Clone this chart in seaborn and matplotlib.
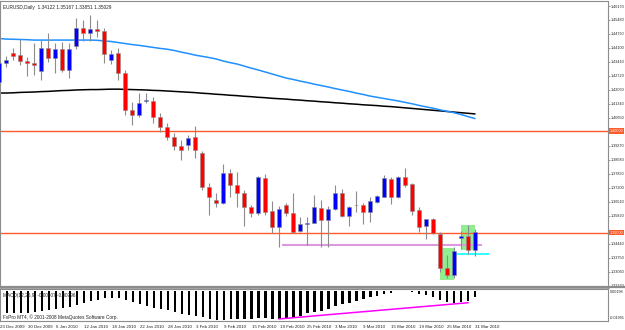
import matplotlib
matplotlib.use("Agg")
import matplotlib.pyplot as plt
import matplotlib.transforms as mtransforms
import seaborn as sns
import numpy as np

# EURUSD daily candles, 23 Dec 2009 .. 31 Mar 2010
opens = [1.4242, 1.4336, 1.4385, 1.4375, 1.4346, 1.4336, 1.4297, 1.4410, 1.4361, 1.4405,
         1.4302, 1.4420, 1.4509, 1.4484, 1.4504, 1.4494, 1.4351, 1.4385, 1.4287, 1.4104,
         1.4080, 1.4149, 1.4149, 1.4070, 1.4021, 1.3971, 1.3927, 1.3932, 1.3971, 1.3892,
         1.3725, 1.3661, 1.3646, 1.3794, 1.3735, 1.3695, 1.3626, 1.3597, 1.3769, 1.3606,
         1.3528, 1.3636, 1.3597, 1.3508, 1.3542, 1.3547, 1.3621, 1.3562, 1.3616, 1.3695,
         1.3582, 1.3634, 1.3636, 1.3601, 1.3651, 1.3675, 1.3764, 1.3675, 1.3774, 1.3740,
         1.3611, 1.3532, 1.3567, 1.3493, 1.3325, 1.3291, 1.3473, 1.3483, 1.34122]
highs = [1.4366, 1.4371, 1.4410, 1.4454, 1.4366, 1.4435, 1.4449, 1.4484, 1.4435, 1.4440,
         1.4435, 1.4558, 1.4548, 1.4573, 1.4548, 1.4509, 1.4400, 1.4410, 1.4302, 1.4144,
         1.4188, 1.4188, 1.4168, 1.4090, 1.4040, 1.3991, 1.3956, 1.3981, 1.4025, 1.3902,
         1.3744, 1.3695, 1.3838, 1.3813, 1.3799, 1.3710, 1.3636, 1.3779, 1.3789, 1.3656,
         1.3631, 1.3646, 1.3695, 1.3577, 1.3577, 1.3685, 1.3661, 1.3631, 1.3735, 1.3715,
         1.3631, 1.3705, 1.3646, 1.3675, 1.3685, 1.3784, 1.3774, 1.3779, 1.3818, 1.3744,
         1.3626, 1.3567, 1.3572, 1.3503, 1.3389, 1.3429, 1.3508, 1.3537, 1.35167]
lows = [1.4228, 1.4316, 1.4351, 1.4326, 1.4272, 1.4277, 1.4252, 1.4341, 1.4287, 1.4292,
        1.4262, 1.4405, 1.4444, 1.4444, 1.4464, 1.4336, 1.4331, 1.4252, 1.4080, 1.4030,
        1.4070, 1.4139, 1.4040, 1.3996, 1.3956, 1.3907, 1.3858, 1.3907, 1.3868, 1.3710,
        1.3587, 1.3626, 1.3641, 1.3675, 1.3626, 1.3532, 1.3577, 1.3587, 1.3587, 1.3498,
        1.3429, 1.3582, 1.3498, 1.3503, 1.3439, 1.3547, 1.3429, 1.3429, 1.3611, 1.3577,
        1.3532, 1.3601, 1.3542, 1.3552, 1.3646, 1.3675, 1.3641, 1.3670, 1.3725, 1.3587,
        1.3503, 1.3468, 1.3493, 1.3306, 1.3276, 1.3276, 1.3419, 1.3394, 1.33851]
closes = [1.4336, 1.4351, 1.4371, 1.4346, 1.4336, 1.4326, 1.4410, 1.4361, 1.4405, 1.4302,
          1.4405, 1.4509, 1.4484, 1.4504, 1.4494, 1.4380, 1.4380, 1.4287, 1.4104, 1.4080,
          1.4139, 1.4154, 1.4070, 1.4021, 1.3971, 1.3927, 1.3907, 1.3966, 1.3907, 1.3725,
          1.3675, 1.3646, 1.3794, 1.3735, 1.3695, 1.3626, 1.3597, 1.3774, 1.3601, 1.3528,
          1.3616, 1.3597, 1.3503, 1.3542, 1.3547, 1.3626, 1.3562, 1.3616, 1.3695, 1.3582,
          1.3626, 1.3638, 1.3601, 1.3656, 1.3680, 1.3769, 1.3675, 1.3774, 1.3735, 1.3606,
          1.3528, 1.3567, 1.3498, 1.3325, 1.3291, 1.3409, 1.3483, 1.3412, 1.35029]

# moving averages as drawn on the chart
ma_fast = [1.4457, 1.4454, 1.4453, 1.4452, 1.4451, 1.4449, 1.4449, 1.4449, 1.4449, 1.4449,
           1.4449, 1.4449, 1.4449, 1.4449, 1.4448, 1.4445, 1.4442, 1.4437, 1.4432, 1.4427,
           1.4423, 1.4418, 1.4413, 1.4408, 1.4404, 1.4398, 1.4390, 1.4383, 1.4375, 1.4369,
           1.4363, 1.4356, 1.4346, 1.4338, 1.4331, 1.4321, 1.4311, 1.4302, 1.4292, 1.4282,
           1.4272, 1.4262, 1.4255, 1.4247, 1.4240, 1.4232, 1.4225, 1.4218, 1.4210, 1.4203,
           1.4196, 1.4188, 1.4181, 1.4173, 1.4167, 1.4161, 1.4155, 1.4149, 1.4142, 1.4135,
           1.4127, 1.4120, 1.4113, 1.4105, 1.4098, 1.4091, 1.4082, 1.4072, 1.4062]
ma_slow = [1.4188, 1.4188, 1.4189, 1.4191, 1.4192, 1.4193, 1.4195, 1.4196, 1.4198, 1.4200,
           1.4201, 1.4203, 1.4204, 1.4205, 1.4205, 1.4206, 1.4207, 1.4207, 1.4206, 1.4205,
           1.4204, 1.4203, 1.4201, 1.4200, 1.4198, 1.4196, 1.4194, 1.4192, 1.4190, 1.4187,
           1.4185, 1.4182, 1.4180, 1.4177, 1.4175, 1.4172, 1.4170, 1.4167, 1.4165, 1.4162,
           1.4160, 1.4158, 1.4155, 1.4153, 1.4150, 1.4148, 1.4145, 1.4143, 1.4140, 1.4138,
           1.4135, 1.4133, 1.4130, 1.4128, 1.4126, 1.4123, 1.4121, 1.4118, 1.4115, 1.4112,
           1.4109, 1.4106, 1.4103, 1.4100, 1.4097, 1.4094, 1.4091, 1.4088, 1.4085]

# MACD(12,26,9) histogram
macd = [-0.0145, -0.0151, -0.0151, -0.0151, -0.0148, -0.0145, -0.0138, -0.0131, -0.0124, -0.0117,
        -0.0110, -0.0097, -0.0083, -0.0069, -0.0059, -0.0052, -0.0049, -0.0052, -0.0062, -0.0079,
        -0.0093, -0.0103, -0.0114, -0.0124, -0.0134, -0.0145, -0.0155, -0.0162, -0.0169, -0.0182,
        -0.0192, -0.01995, -0.0196, -0.0192, -0.0189, -0.0189, -0.0189, -0.0186, -0.0186, -0.0189,
        -0.0192, -0.0189, -0.0186, -0.0172, -0.0151, -0.0145, -0.0138, -0.0124, -0.0103, -0.0090,
        -0.0083, -0.0069, -0.0055, -0.0042, -0.0035, -0.0021, -0.0014, -0.0004, -0.0004, -0.0008,
        -0.0018, -0.0028, -0.0042, -0.0062, -0.0076, -0.0083, -0.0076, -0.0069, -0.00407]

date_labels = ['23 Dec 2009', '30 Dec 2009', '6 Jan 2010', '12 Jan 2010', '18 Jan 2010',
               '22 Jan 2010', '28 Jan 2010', '3 Feb 2010', '9 Feb 2010', '15 Feb 2010',
               '19 Feb 2010', '25 Feb 2010', '3 Mar 2010', '9 Mar 2010', '15 Mar 2010',
               '19 Mar 2010', '25 Mar 2010', '31 Mar 2010']
date_bars = [0, 4, 8, 12, 16, 20, 24, 28, 32, 36, 40, 44, 48, 52, 56, 60, 64, 68]

price_ticks = [1.46170, 1.45480, 1.44790, 1.44100, 1.43410, 1.42720, 1.42030, 1.41340,
               1.40650, 1.39270, 1.38580, 1.37890, 1.37200, 1.36510, 1.35820,
               1.34440, 1.33750, 1.33060, 1.32370]
levels = [1.4000, 1.3500]

# drawn objects
support_line = [40.5, 69, 1.3441]      # from bar, to bar, price
cyan_line = [65, 70, 1.3392]
zone_bars = [(63, 65), (66, 68)]
zone_prices = [(1.3266, 1.3424), (1.3414, 1.3537)]
macd_trend_bars = [39.9, 67]
macd_trend_vals = [-0.0192, -0.0081]

sns.set_style("white")
plt.rcParams['font.family'] = ['Liberation Sans', 'DejaVu Sans']
gray = '#8c8c8c'
fs = 3.4
fs_scale = 2.7
txt = '#222222'

fig = plt.figure(figsize=(6.25, 3.3), dpi=100)
ax = fig.add_axes([0, 0.1303, 0.9728, 0.8667])
ax2 = fig.add_axes([0, 0.0273, 0.9728, 0.0970])

idx = np.arange(len(opens))
o, h, l, c = map(np.array, (opens, highs, lows, closes))
up = c >= o
lo = np.minimum(o, c)
hgt = np.maximum(np.abs(c - o), 0.00015)

# zones behind the candles
for (b0, b1), (p0, p1) in zip(zone_bars, zone_prices):
    ax.fill_between([b0, b1], p0, p1, color='#90ee90', lw=0, zorder=0.5)

sns.lineplot(x=idx, y=ma_slow, ax=ax, color='black', lw=1.1, zorder=1)
sns.lineplot(x=idx, y=ma_fast, ax=ax, color='#1e90ff', lw=1.1, zorder=1)

for lev in levels:
    ax.axhline(lev, color='#ff5a2a', lw=1, zorder=1)
ax.hlines(support_line[2], support_line[0], support_line[1], color='#dd99dd', lw=1.5, zorder=1)
ax.hlines(cyan_line[2], cyan_line[0], cyan_line[1], color='#33ffff', lw=1.4, zorder=1)

ax.vlines(idx, l, h, color=gray, lw=0.8, zorder=2)
ax.bar(idx[up], hgt[up], bottom=lo[up], width=0.7, color='#0000ff',
       edgecolor=gray, lw=0.4, zorder=3)
ax.bar(idx[~up], hgt[~up], bottom=lo[~up], width=0.7, color='#ff0000',
       edgecolor=gray, lw=0.4, zorder=3)

ax.set_xlim(0.143, 87)
ax.set_ylim(1.32317, 1.46417)
ax.set_xticks([])
ax.yaxis.tick_right()
ax.set_yticks(price_ticks)
ax.set_yticklabels(['%.5f' % p for p in price_ticks], fontsize=fs_scale)
ax.tick_params(axis='y', length=1.5, width=0.6, pad=0.4, colors=gray, labelcolor=txt)
for sp in ax.spines.values():
    sp.set_color(gray)
    sp.set_linewidth(0.8)
ax.spines['bottom'].set_linewidth(1.8)

trans = mtransforms.blended_transform_factory(ax.transAxes, ax.transData)
for lev in levels:
    ax.text(1.003, lev, '%.5f' % lev, transform=trans, fontsize=fs_scale, color='white',
            va='center', ha='left',
            bbox=dict(facecolor='#ff5a2a', edgecolor='none', pad=0.5))

ax.text(0.005, 0.985, 'EURUSD,Daily  1.34122 1.35167 1.33851 1.35029',
        transform=ax.transAxes, fontsize=fs, va='top', ha='left', color=txt)

# MACD window
ax2.bar(idx, macd, width=0.32, color='black', lw=0, zorder=2)
ax2.plot(macd_trend_bars, macd_trend_vals, color='#ff00ff', lw=1.1, zorder=3)
ax2.set_xlim(0.143, 87)
ax2.set_ylim(-0.0206, 0.0013)
ax2.set_yticks([])
ax2.set_xticks(date_bars)
ax2.set_xticklabels(date_labels, fontsize=3.2, ha='left')
ax2.set_xticks(idx, minor=True)
ax2.tick_params(axis='x', which='major', length=2, width=0.5, pad=1.2, colors=gray,
                labelcolor=txt)
ax2.tick_params(axis='x', which='minor', length=1.2, width=0.4, colors=gray)
for sp in ax2.spines.values():
    sp.set_color(gray)
    sp.set_linewidth(0.8)
ax2.text(1.003, 0.97, '0.00198', transform=ax2.transAxes, fontsize=fs_scale, va='top',
         ha='left', color=txt)
ax2.text(1.003, 0.03, '-0.01995', transform=ax2.transAxes, fontsize=fs_scale, va='bottom',
         ha='left', color=txt)
ax2.text(0.005, 0.88, 'MACD(12,26,9) -0.00407 -0.00796', transform=ax2.transAxes,
         fontsize=fs, va='top', ha='left', color=txt)
ax2.text(0.005, 0.04, 'FxPro MT4, \u00a9 2001-2008 MetaQuotes Software Corp.',
         transform=ax2.transAxes, fontsize=fs, va='bottom', ha='left', color=txt)

# window separator running under the price scale too
fig.add_artist(plt.Line2D([0, 1], [0.1303, 0.1303], color=gray, lw=1.6))

fig.savefig('out.png', dpi=100, facecolor='white')
